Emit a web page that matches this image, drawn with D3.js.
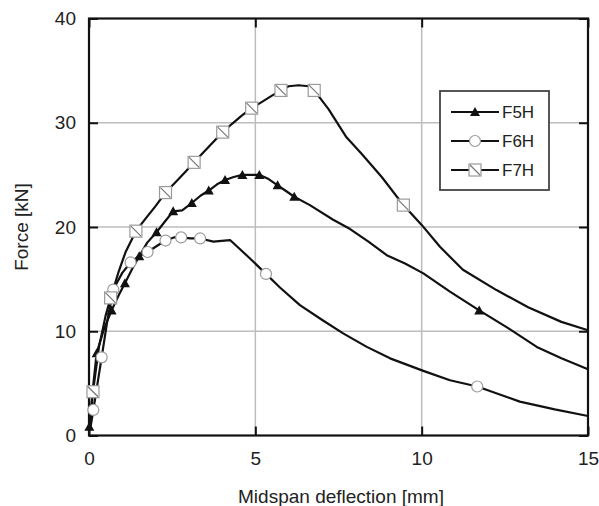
<!DOCTYPE html>
<html><head><meta charset="utf-8">
<script src="https://cdn.jsdelivr.net/npm/d3@7"></script>
<style>body{margin:0;background:#fff}svg{display:block}text{font-family:Arial,"Liberation Sans",sans-serif;fill:#222}</style>
</head><body><svg id="c" width="599" height="506"></svg>
<script>
const xTicks = [0, 5, 10, 15];
const yTicks = [0, 10, 20, 30, 40];
const seriesNames = ["F5H", "F6H", "F7H"];
const f5hLine = [[0.01,0.85],[0.1,4],[0.23,7.9],[0.45,10.2],[0.68,12.0],[0.9,13.5],[1.08,14.6],[1.3,16.0],[1.51,17.2],[1.75,18.5],[2.03,19.5],[2.3,20.6],[2.53,21.5],[2.8,21.6],[3.09,22.3],[3.35,23.0],[3.6,23.5],[3.85,24.1],[4.09,24.5],[4.35,24.8],[4.61,25.0],[4.85,25.0],[5.12,25.0],[5.4,24.6],[5.67,24.0],[5.9,23.5],[6.17,22.9],[6.64,22.1],[7.34,20.7],[7.85,19.8],[8.4,18.6],[8.95,17.3],[9.5,16.5],[10.05,15.55],[10.85,13.8],[11.73,12.0],[12.6,10.3],[13.46,8.5],[14.2,7.4],[15,6.35]];
const f5hMarkers = [[0.01,0.85],[0.23,7.9],[0.68,12.0],[1.08,14.6],[1.51,17.2],[2.03,19.5],[2.53,21.5],[3.09,22.3],[3.6,23.5],[4.09,24.5],[4.61,25.0],[5.12,25.0],[5.67,24.0],[6.17,22.9],[11.73,12.0]];
const f6hLine = [[0.03,0.5],[0.13,2.45],[0.38,7.5],[0.55,11],[0.73,14.0],[1.0,15.6],[1.25,16.6],[1.5,17.2],[1.76,17.6],[2.05,18.2],[2.3,18.7],[2.55,19.0],[2.77,19.0],[3.05,18.9],[3.34,18.9],[3.74,18.6],[4.24,18.75],[4.8,17.1],[5.32,15.5],[5.74,14.2],[6.34,12.5],[7.0,11.1],[7.64,9.8],[8.35,8.5],[9.05,7.4],[10.05,6.2],[10.85,5.3],[11.67,4.7],[12.95,3.25],[14,2.5],[15,1.87]];
const f6hMarkers = [[0.13,2.45],[0.38,7.5],[0.73,14.0],[1.25,16.6],[1.76,17.6],[2.3,18.7],[2.77,19.0],[3.34,18.9],[5.32,15.5],[11.67,4.7]];
const f7hLine = [[0.03,1],[0.12,4.2],[0.3,8.5],[0.5,11.5],[0.65,13.2],[0.9,15.8],[1.1,17.6],[1.41,19.6],[1.7,20.8],[2.0,22.0],[2.3,23.3],[2.6,24.3],[2.9,25.3],[3.16,26.2],[3.45,27.2],[3.75,28.2],[4.02,29.1],[4.3,29.9],[4.6,30.7],[4.89,31.4],[5.2,32.0],[5.5,32.6],[5.77,33.1],[6.0,33.5],[6.3,33.6],[6.6,33.5],[6.77,33.1],[7.2,31.3],[7.74,28.6],[8.2,27.0],[8.8,24.8],[9.45,22.1],[10.0,20.2],[10.55,18.1],[11.24,15.9],[12.25,13.95],[13.2,12.3],[14.2,10.9],[15,10.1]];
const f7hMarkers = [[0.12,4.2],[0.65,13.2],[1.41,19.6],[2.3,23.3],[3.16,26.2],[4.02,29.1],[4.89,31.4],[5.77,33.1],[6.77,33.1],[9.45,22.1]];

const svg = d3.select("#c");
const L = 89, R = 588, T = 18.5, B = 435.5;
const x = d3.scaleLinear().domain([0, 15]).range([L, R]);
const y = d3.scaleLinear().domain([0, 40]).range([B, T]);

// grid
const g = svg.append("g");
g.selectAll(".gx").data(xTicks.slice(1, -1)).join("line")
  .attr("x1", d => x(d)).attr("x2", d => x(d)).attr("y1", T).attr("y2", B)
  .attr("stroke", "#bdbdbd").attr("stroke-width", 1.5);
g.selectAll(".gy").data(yTicks.slice(1, -1)).join("line")
  .attr("y1", d => y(d)).attr("y2", d => y(d)).attr("x1", L).attr("x2", R)
  .attr("stroke", "#bdbdbd").attr("stroke-width", 1.5);

const tl = 9;
const styleText = a => a.selectAll("text").attr("font-size", 19).attr("fill", "#222").attr("font-family", "Arial, Liberation Sans, sans-serif");
const styleLines = a => { a.select(".domain").remove(); a.selectAll("line").attr("stroke", "#111").attr("stroke-width", 2); };
svg.append("g").attr("transform", `translate(0,${B})`)
  .call(d3.axisBottom(x).tickValues(xTicks).tickSize(-tl).tickPadding(16).tickFormat(d3.format("d")))
  .call(styleLines).call(styleText);
svg.append("g").attr("transform", `translate(0,${T})`)
  .call(d3.axisTop(x).tickValues(xTicks).tickSize(-tl).tickFormat(""))
  .call(styleLines);
svg.append("g").attr("transform", `translate(${L},0)`)
  .call(d3.axisLeft(y).tickValues(yTicks).tickSize(-tl).tickPadding(13).tickFormat(d3.format("d")))
  .call(styleLines).call(styleText);
svg.append("g").attr("transform", `translate(${R},0)`)
  .call(d3.axisRight(y).tickValues(yTicks).tickSize(-tl).tickFormat(""))
  .call(styleLines);

svg.append("rect").attr("x", L).attr("y", T).attr("width", R - L).attr("height", B - T)
  .attr("fill", "none").attr("stroke", "#111").attr("stroke-width", 2.2);

// lines
const line = d3.line().x(d => x(d[0])).y(d => y(d[1]));
[f5hLine, f6hLine, f7hLine].forEach(data => {
  svg.append("path").attr("d", line(data)).attr("fill", "none").attr("stroke", "#111").attr("stroke-width", 2.2).attr("stroke-linejoin", "round");
});

function tri(sel, cx, cy) {
  sel.append("path").attr("d", `M${cx},${cy - 5}L${cx + 5},${cy + 4}L${cx - 5},${cy + 4}Z`).attr("fill", "#111");
}
function circ(sel, cx, cy) {
  sel.append("circle").attr("cx", cx).attr("cy", cy).attr("r", 5.5).attr("fill", "#fff").attr("stroke", "#9a9a9a").attr("stroke-width", 1.2);
}
function sq(sel, cx, cy) {
  const h = 6;
  sel.append("rect").attr("x", cx - h).attr("y", cy - h).attr("width", 2 * h).attr("height", 2 * h).attr("fill", "#fff").attr("stroke", "#9a9a9a").attr("stroke-width", 1.2);
  sel.append("line").attr("x1", cx - h + 1).attr("y1", cy - h + 1).attr("x2", cx + h - 1).attr("y2", cy + h - 1).attr("stroke", "#777").attr("stroke-width", 1.2);
}
const mk = svg.append("g");
f5hMarkers.forEach(d => tri(mk, x(d[0]), y(d[1])));
f6hMarkers.forEach(d => circ(mk, x(d[0]), y(d[1])));
f7hMarkers.forEach(d => sq(mk, x(d[0]), y(d[1])));

// legend
const lg = svg.append("g");
lg.append("rect").attr("x", 440).attr("y", 91).attr("width", 109).attr("height", 99).attr("fill", "#fff").attr("stroke", "#444").attr("stroke-width", 1.8);
const drawers = [tri, circ, sq];
seriesNames.forEach((n, i) => {
  const cy = 112 + i * 29;
  lg.append("line").attr("x1", 451).attr("x2", 499).attr("y1", cy).attr("y2", cy).attr("stroke", "#111").attr("stroke-width", 1.8);
  drawers[i](lg, 475, cy);
  lg.append("text").attr("x", 502).attr("y", cy + 6).attr("font-size", 17).text(n);
});

// axis titles
svg.append("text").attr("x", 341).attr("y", 503).attr("text-anchor", "middle").attr("font-size", 19).text("Midspan deflection [mm]");
svg.append("text").attr("transform", "translate(28,227) rotate(-90)").attr("text-anchor", "middle").attr("font-size", 19).text("Force [kN]");
</script></body></html>
